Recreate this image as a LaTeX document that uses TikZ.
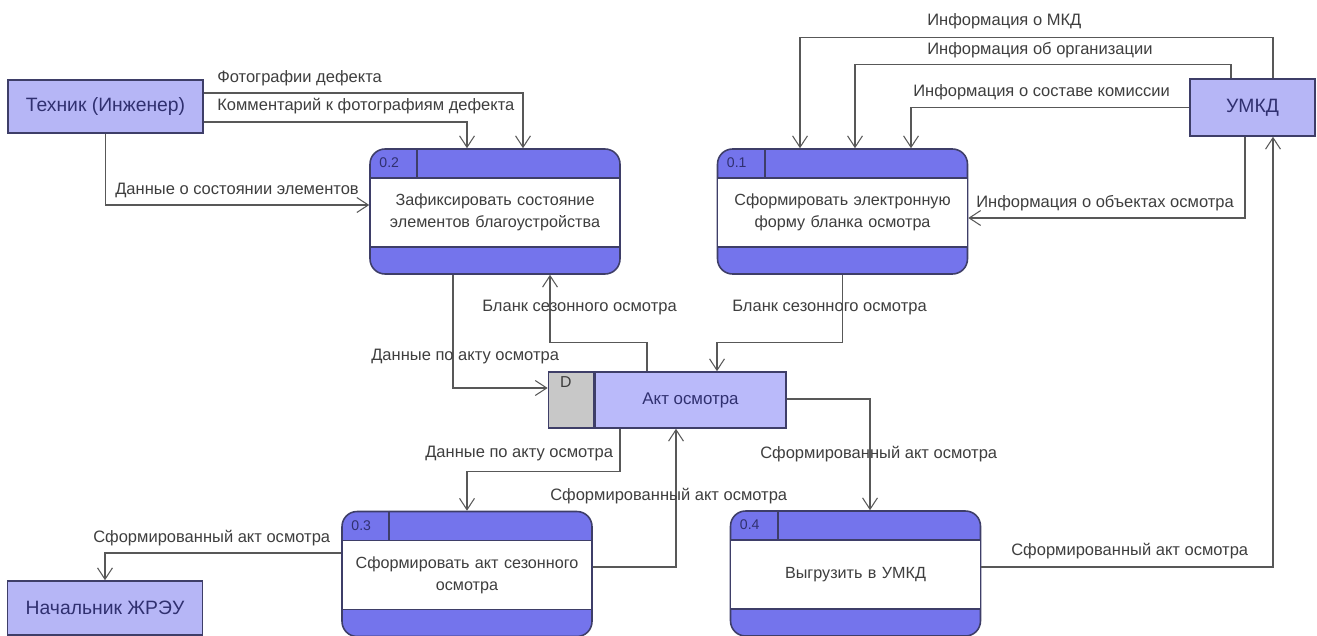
\documentclass[tikz,border=0pt]{standalone}
\usepackage{fontspec}
\setmainfont{Liberation Sans}
\usepackage{tikz}
\usetikzlibrary{arrows.meta, positioning}
\definecolor{procblue}{RGB}{116,116,236}
\definecolor{entityfill}{RGB}{182,182,246}
\definecolor{storefill}{RGB}{186,186,250}
\definecolor{storegray}{RGB}{200,200,200}
\definecolor{edgeblue}{RGB}{62,62,104}
\definecolor{linegray}{RGB}{88,88,88}
\definecolor{textgray}{RGB}{62,62,62}
\definecolor{navy}{RGB}{48,48,112}
\tikzset{
  lbl/.style={font=\fontsize{9.4}{11}\selectfont, text=textgray, inner sep=1pt},
  entity/.style={draw=edgeblue, line width=0.9pt, fill=entityfill, minimum width=3.9cm, minimum height=1.06cm, font=\fontsize{11}{13}\selectfont, text=navy},
  proc/.style={draw=edgeblue, line width=0.9pt, fill=procblue, rounded corners=0.3cm, minimum width=5cm, minimum height=2.5cm},
  procmid/.style={draw=edgeblue, line width=0.9pt, fill=white, minimum width=5cm, minimum height=1.38cm, inner sep=0pt, text width=4.7cm, align=center, font=\fontsize{9.2}{12.5}\selectfont, text=textgray},
  procnum/.style={font=\fontsize{8}{9}\selectfont, text=navy, inner sep=0pt},
  store/.style={draw=edgeblue, line width=0.9pt, fill=storefill, minimum width=3.82cm, minimum height=1.12cm, font=\fontsize{9.6}{11}\selectfont, text=navy},
  storeid/.style={draw=edgeblue, line width=0.9pt, fill=storegray, minimum width=0.9cm, minimum height=1.12cm},
  flow/.style={draw=linegray, line width=0.6pt, ->}
}
\newcommand{\procbox}[5]{%
  \node[proc] (#1) at (#2,#3) {};
  \node[procmid] (#1-text) at ([yshift=-0.02cm]#1.center) {#5};
  \draw[edgeblue, line width=0.9pt] ([xshift=0.96cm]#1.north west) -- ++(0,29);
  \node[procnum] (#1-num) at ([xshift=0.4cm, yshift=-0.29cm]#1.north west) {#4};
}

\begin{document}
\begin{tikzpicture}[x=0.02cm, y=-0.02cm, >={Straight Barb[length=6.5pt, width=8.5pt]}]
\useasboundingbox (0,0) rectangle (1317,635);
\node[entity] (tech) at (105.5,106.5) {Техник (Инженер)};
\node[entity, minimum width=2.5cm, minimum height=1.14cm] (umkd) at (1252.5,107.5) {УМКД};
\node[entity, minimum height=1.08cm] (chief) at (105,608) {Начальник ЖРЭУ};
\procbox{p2}{495}{211.5}{0.2}{Зафиксировать состояние\\элементов благоустройства}
\procbox{p1}{842.5}{211.5}{0.1}{Сформировать электронную\\форму бланка осмотра}
\procbox{p3}{467}{574}{0.3}{Сформировать акт сезонного\\осмотра}
\procbox{p4}{855.5}{573.5}{0.4}{Выгрузить в УМКД}
\node[store] (store) at (690.5,400) {Акт осмотра};
\node[storeid, anchor=east] (store-id) at (store.west) {};
\node[procnum, font=\fontsize{9}{10}\selectfont, text=textgray, anchor=north] (store-d) at ([xshift=-0.1cm, yshift=-0.1cm]store-id.north) {D};
\draw[flow] (tech.east |- 0,93) -| (p2.north -| 523,0) node[lbl, anchor=west] at (215,78) {Фотографии дефекта};
\draw[flow] (tech.east |- 0,122) -| (p2.north -| 467,0) node[lbl, anchor=west] at (215,106) {Комментарий к фотографиям дефекта};
\draw[flow] (tech.south) |- (p2.west |- 0,205) node[lbl, anchor=west] at (113,190) {Данные о состоянии элементов};
\draw[flow] (umkd.north -| 1273,0) -- ++(0,-41) -| (p1.north -| 800,0) node[lbl, anchor=west] at (925,21) {Информация о МКД};
\draw[flow] (umkd.north -| 1231,0) -- ++(0,-14) -| (p1.north -| 855,0) node[lbl, anchor=west] at (925,50) {Информация об организации};
\draw[flow] (umkd.west) -| (p1.north -| 911,0) node[lbl, anchor=west] at (911,92) {Информация о составе комиссии};
\draw[flow] (umkd.south -| 1245,0) |- (p1.east |- 0,218) node[lbl, anchor=west] at (974,203) {Информация о объектах осмотра};
\draw[flow] (p4.east |- 0,567) -| (umkd.south -| 1273,0) node[lbl, anchor=west] at (1009,551) {Сформированный акт осмотра};
\draw[flow] (p2.south -| 453,0) |- (store-id.west |- 0,388) node[lbl, anchor=west] at (369,357) {Данные по акту осмотра};
\draw[flow] (store.north -| 647,0) -- ++(0,-29) -| (p2.south -| 550,0) node[lbl, anchor=west] at (480,308) {Бланк сезонного осмотра};
\draw[flow] (p1.south) -- ++(0,68) -| (store.north -| 717,0) node[lbl, anchor=west] at (730,308) {Бланк сезонного осмотра};
\draw[flow] (store.south -| 620,0) -- ++(0,43) -| (p3.north) node[lbl, anchor=west] at (423,454) {Данные по акту осмотра};
\draw[flow] (p3.east |- 0,567) -| (store.south -| 676,0) node[lbl, anchor=west] at (548,496) {Сформированный акт осмотра};
\draw[flow] (store.east |- 0,399) -| (p4.north -| 870,0) node[lbl, anchor=west] at (758,454) {Сформированный акт осмотра};
\draw[flow] (p3.west |- 0,553) -| (chief.north) node[lbl, anchor=west] at (91,538) {Сформированный акт осмотра};
\end{tikzpicture}
\end{document}
